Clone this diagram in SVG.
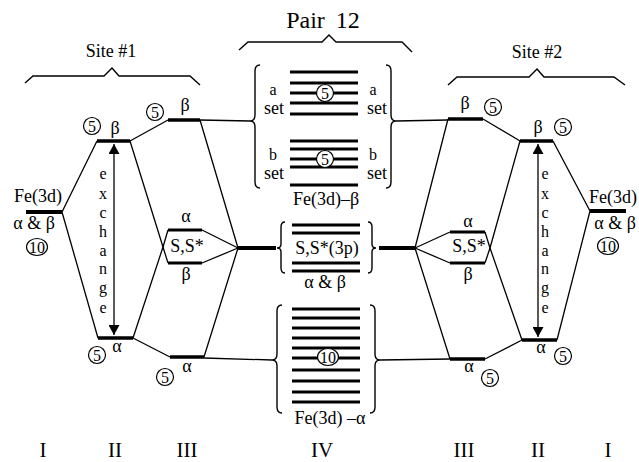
<svg xmlns="http://www.w3.org/2000/svg" width="639" height="462" viewBox="0 0 639 462">
<style>
.t{font-family:'Liberation Serif','DejaVu Serif','Times New Roman',serif;font-size:18px;fill:#000;text-anchor:middle}
.s{font-size:16px}
.n{font-size:16px}
.big{font-size:21px}
.hd{font-size:18px}
.lvl{stroke:#000;stroke-width:3.5;fill:none}
.thk{stroke:#000;stroke-width:4;fill:none}
.bar{stroke:#000;stroke-width:3;fill:none}
.thin{stroke:#000;stroke-width:1.3;fill:none;stroke-linejoin:round}
.br{stroke:#000;stroke-width:1.4;fill:none}
.c{fill:#fff;stroke:#000;stroke-width:1.2}
</style>
<defs>
<marker id="ah" markerUnits="userSpaceOnUse" markerWidth="10" markerHeight="11" refX="10" refY="5.5" orient="auto-start-reverse">
<path d="M0,0 L10,5.5 L0,11 z" fill="#000"/>
</marker>
</defs>
<rect width="639" height="462" fill="#fff"/>

<g id="headers">
<text class="t" x="323" y="28" style="font-size:24px;word-spacing:5px">Pair 12</text>
<path class="br" d="M239,50 L248,42 L322,42 L329,35 L336,42 L402,42 L412,52"/>
<text class="t hd" x="111" y="57">Site #1</text>
<path class="br" d="M25,83 L33,76 L104,76 L112,68 L119,76 L190,76 L200,85"/>
<text class="t hd" x="537" y="58">Site #2</text>
<path class="br" d="M448,85 L457,77 L529,77 L537,69 L544,77 L614,77 L625,85"/>
</g>

<g id="connectors">
<polyline class="thin" points="97,141 62,212 98,338"/>
<line class="thin" x1="130" y1="141" x2="168" y2="120"/>
<line class="thin" x1="133" y1="338" x2="170" y2="357"/>
<polyline class="thin" points="130,141 163,247 133,338"/>
<polyline class="thin" points="200,120 238,248 204,357"/>
<line class="thk" x1="238" y1="248" x2="276" y2="248"/>
<line class="thin" x1="200" y1="120" x2="250" y2="121"/>
<line class="thin" x1="204" y1="358" x2="272" y2="360"/>

<polyline class="thin" points="553,141 590,211 557,340"/>
<line class="thin" x1="520" y1="141" x2="483" y2="119"/>
<line class="thin" x1="522" y1="340" x2="485" y2="359"/>
<polyline class="thin" points="520,141 490,248 522,340"/>
<polyline class="thin" points="448,119 415,248 450,359"/>
<line class="thk" x1="379" y1="248" x2="415" y2="248"/>
<line class="thin" x1="396" y1="121" x2="448" y2="120"/>
<line class="thin" x1="380" y1="360" x2="450" y2="359"/>
</g>

<g id="fe-left">
<line class="thk" x1="26" y1="212" x2="62" y2="212"/>
<text class="t" x="38" y="202">Fe(3d)</text>
<text class="t" x="34" y="229">α &amp; β</text>
<ellipse class="c" cx="37" cy="247" rx="10.5" ry="8.5"/>
<text class="t n" x="37" y="252.5">10</text>
</g>

<g id="ii-left">
<line class="lvl" x1="97" y1="141" x2="130" y2="141"/>
<circle class="c" cx="92" cy="126" r="8.5"/>
<text class="t n" x="92" y="131.5">5</text>
<text class="t" x="115" y="134">β</text>
<line class="lvl" x1="98" y1="338" x2="133" y2="338"/>
<circle class="c" cx="97" cy="355" r="8.5"/>
<text class="t n" x="97" y="360.5">5</text>
<text class="t" x="117" y="352">α</text>
<line class="thin" x1="114" y1="144" x2="114" y2="335" marker-start="url(#ah)" marker-end="url(#ah)"/>
<text class="t s">
<tspan x="103" y="179">e</tspan><tspan x="103" y="199">x</tspan><tspan x="103" y="218">c</tspan><tspan x="103" y="237">h</tspan><tspan x="103" y="256">a</tspan><tspan x="103" y="274">n</tspan><tspan x="103" y="293">g</tspan><tspan x="103" y="313">e</tspan>
</text>
</g>

<g id="iii-left">
<line class="lvl" x1="168" y1="120" x2="200" y2="120"/>
<circle class="c" cx="155" cy="112" r="8.5"/>
<text class="t n" x="155" y="117.5">5</text>
<text class="t" x="185" y="111">β</text>
<line class="lvl" x1="170" y1="357" x2="204" y2="357"/>
<circle class="c" cx="165" cy="377" r="8.5"/>
<text class="t n" x="165" y="382.5">5</text>
<text class="t" x="187" y="372">α</text>
</g>

<g id="ss-left">
<polyline class="thin" points="168,230 163,247 168,263"/>
<polyline class="thin" points="202,230 238,248 202,263"/>
<line class="bar" x1="168" y1="230" x2="202" y2="230"/>
<line class="bar" x1="168" y1="263" x2="202" y2="263"/>
<text class="t" x="186" y="222">α</text>
<text class="t" x="187" y="252">S,S*</text>
<text class="t" x="186" y="280">β</text>
</g>

<g id="pair-beta">
<path class="br" d="M260,65 Q255,65 255,71 L255,115 Q255,121 250,121 Q255,121 255,127 L255,182 Q255,188 260,188"/>
<path class="br" d="M386,65 Q391,65 391,71 L391,115 Q391,121 396,121 Q391,121 391,127 L391,182 Q391,188 386,188"/>
<g class="bar">
<line x1="290" y1="72" x2="358" y2="72"/>
<line x1="290" y1="83" x2="358" y2="83"/>
<line x1="290" y1="93" x2="358" y2="93"/>
<line x1="290" y1="103" x2="358" y2="103"/>
<line x1="290" y1="114" x2="358" y2="114"/>
<line x1="290" y1="141" x2="358" y2="141"/>
<line x1="290" y1="149" x2="358" y2="149"/>
<line x1="290" y1="159" x2="358" y2="159"/>
<line x1="290" y1="167" x2="358" y2="167"/>
<line x1="290" y1="185" x2="358" y2="185"/>
</g>
<circle class="c" cx="325" cy="93" r="8.5"/>
<text class="t n" x="325" y="98.5">5</text>
<circle class="c" cx="325" cy="159" r="8.5"/>
<text class="t n" x="325" y="164.5">5</text>
<text class="t s" x="273" y="95">a</text>
<text class="t" x="274" y="114">set</text>
<text class="t s" x="373" y="95">a</text>
<text class="t" x="377" y="114">set</text>
<text class="t s" x="273" y="160">b</text>
<text class="t" x="274" y="179">set</text>
<text class="t s" x="373" y="160">b</text>
<text class="t" x="377" y="179">set</text>
<text class="t" x="326" y="205">Fe(3d)–β</text>
</g>

<g id="pair-ss">
<path class="br" d="M285,222 Q281,222 281,227 L281,244 Q281,248 277,248 Q281,248 281,252 L281,268 Q281,273 285,273"/>
<path class="br" d="M368,222 Q372,222 372,227 L372,244 Q372,248 376,248 Q372,248 372,252 L372,268 Q372,273 368,273"/>
<g class="bar">
<line x1="292" y1="225" x2="360" y2="225"/>
<line x1="292" y1="233" x2="360" y2="233"/>
<line x1="292" y1="263" x2="360" y2="263"/>
<line x1="292" y1="271" x2="360" y2="271"/>
</g>
<text class="t" x="327" y="254">S,S*(3p)</text>
<text class="t" x="325" y="288">α &amp; β</text>
</g>

<g id="pair-alpha">
<path class="br" d="M282,305 Q277,305 277,311 L277,354 Q277,360 272,360 Q277,360 277,366 L277,407 Q277,413 282,413"/>
<path class="br" d="M370,305 Q375,305 375,311 L375,354 Q375,360 380,360 Q375,360 375,366 L375,407 Q375,413 370,413"/>
<g class="bar">
<line x1="292" y1="309" x2="360" y2="309"/>
<line x1="292" y1="318" x2="360" y2="318"/>
<line x1="292" y1="328" x2="360" y2="328"/>
<line x1="292" y1="338" x2="360" y2="338"/>
<line x1="292" y1="348" x2="360" y2="348"/>
<line x1="292" y1="358" x2="360" y2="358"/>
<line x1="292" y1="370" x2="360" y2="370"/>
<line x1="292" y1="381" x2="360" y2="381"/>
<line x1="292" y1="392" x2="360" y2="392"/>
<line x1="292" y1="402" x2="360" y2="402"/>
</g>
<ellipse class="c" cx="328" cy="357" rx="10.5" ry="8.5"/>
<text class="t n" x="328" y="362.5">10</text>
<text class="t" x="330" y="424">Fe(3d) –α</text>
</g>

<g id="ss-right">
<polyline class="thin" points="485,232 490,248 485,263"/>
<polyline class="thin" points="450,232 415,248 450,263"/>
<line class="bar" x1="450" y1="232" x2="485" y2="232"/>
<line class="bar" x1="450" y1="263" x2="485" y2="263"/>
<text class="t" x="468" y="227">α</text>
<text class="t" x="469" y="252">S,S*</text>
<text class="t" x="468" y="280">β</text>
</g>

<g id="iii-right">
<line class="lvl" x1="448" y1="119" x2="483" y2="119"/>
<text class="t" x="465" y="109">β</text>
<circle class="c" cx="493" cy="107" r="8.5"/>
<text class="t n" x="493" y="112.5">5</text>
<line class="lvl" x1="450" y1="359" x2="485" y2="359"/>
<text class="t" x="469" y="372">α</text>
<circle class="c" cx="490" cy="378" r="8.5"/>
<text class="t n" x="490" y="383.5">5</text>
</g>

<g id="ii-right">
<line class="lvl" x1="520" y1="141" x2="553" y2="141"/>
<text class="t" x="538" y="133">β</text>
<circle class="c" cx="563" cy="127" r="8.5"/>
<text class="t n" x="563" y="132.5">5</text>
<line class="lvl" x1="522" y1="340" x2="557" y2="340"/>
<text class="t" x="541" y="353">α</text>
<circle class="c" cx="563" cy="356" r="8.5"/>
<text class="t n" x="563" y="361.5">5</text>
<line class="thin" x1="538" y1="144" x2="538" y2="337" marker-start="url(#ah)" marker-end="url(#ah)"/>
<text class="t s">
<tspan x="545" y="179">e</tspan><tspan x="545" y="199">x</tspan><tspan x="545" y="218">c</tspan><tspan x="545" y="237">h</tspan><tspan x="545" y="256">a</tspan><tspan x="545" y="274">n</tspan><tspan x="545" y="293">g</tspan><tspan x="545" y="313">e</tspan>
</text>
</g>

<g id="fe-right">
<line class="thk" x1="590" y1="211" x2="626" y2="211"/>
<text class="t" x="613" y="203">Fe(3d)</text>
<text class="t" x="615" y="229">α &amp; β</text>
<ellipse class="c" cx="608" cy="246" rx="10.5" ry="8.5"/>
<text class="t n" x="608" y="251.5">10</text>
</g>

<g id="columns">
<text class="t big" x="43" y="457">I</text>
<text class="t big" x="115" y="457">II</text>
<text class="t big" x="187" y="457">III</text>
<text class="t big" x="322" y="457">IV</text>
<text class="t big" x="464" y="457">III</text>
<text class="t big" x="538" y="457">II</text>
<text class="t big" x="608" y="457">I</text>
</g>
</svg>
